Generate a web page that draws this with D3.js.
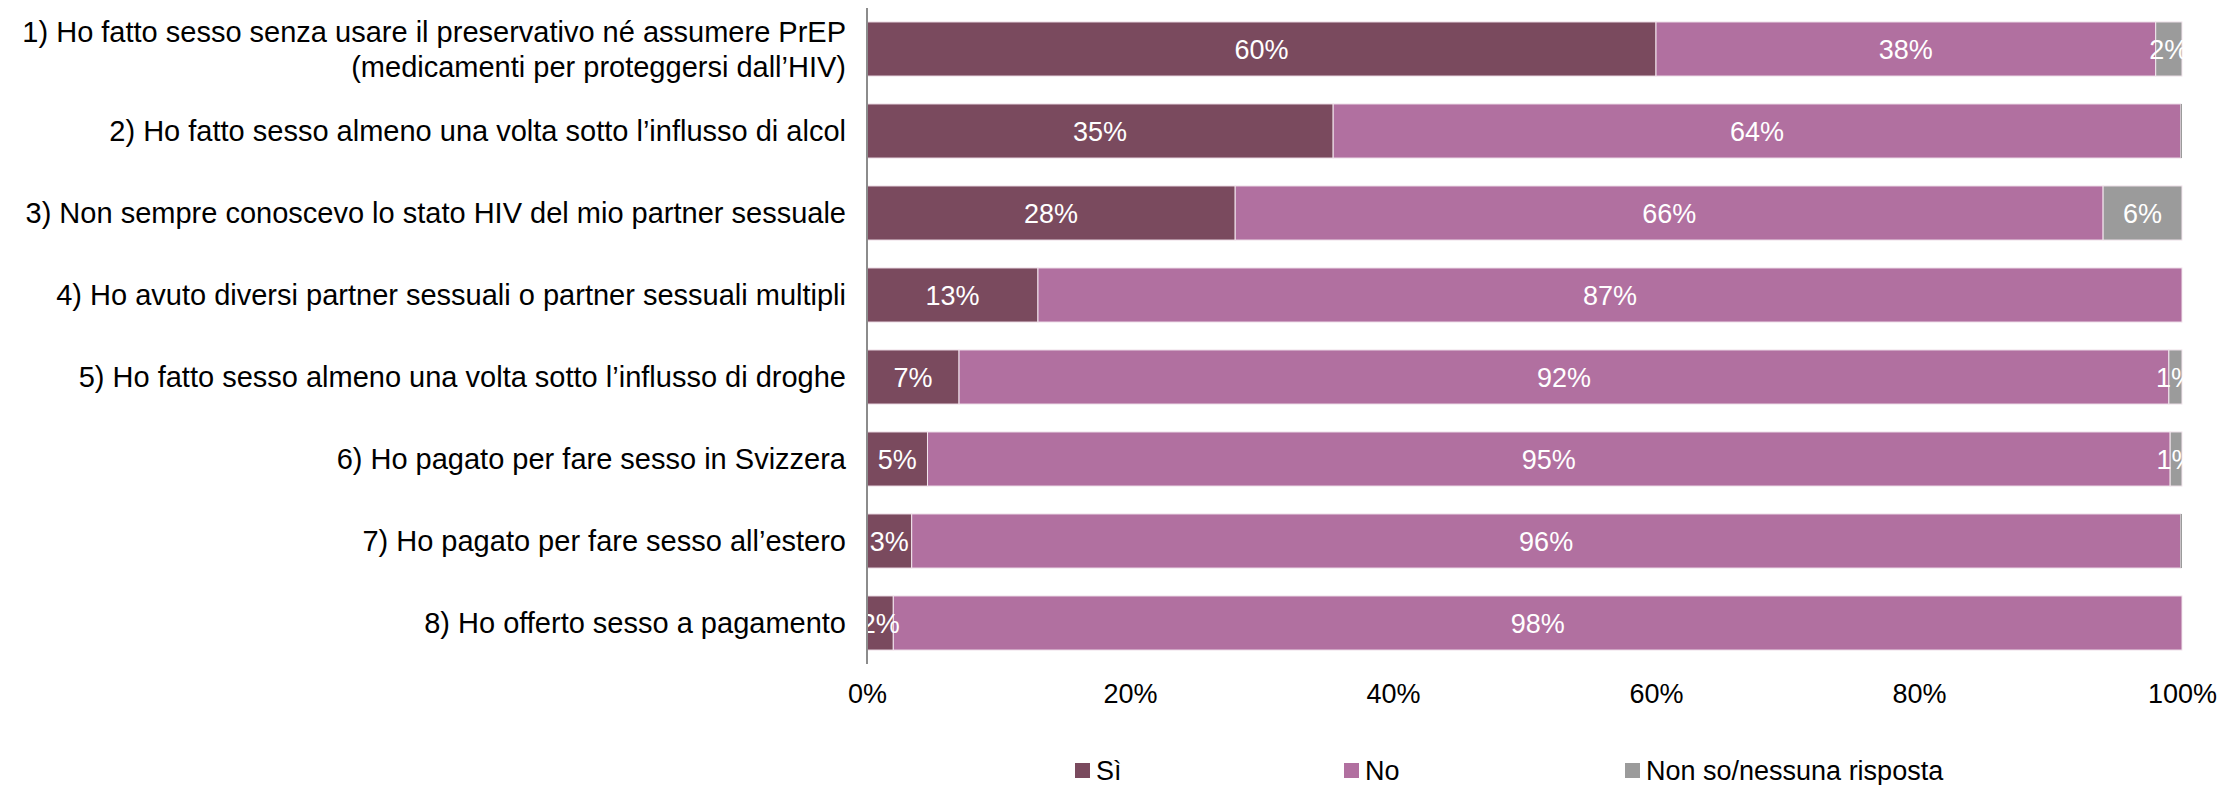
<!DOCTYPE html>
<html>
<head>
<meta charset="utf-8">
<script src="https://cdn.jsdelivr.net/npm/d3@7"></script>
<style>
html,body{margin:0;padding:0;background:#fff;}
svg{display:block;font-family:"Liberation Sans",Arial,sans-serif;}
</style>
</head>
<body>
<svg id="chart" width="2223" height="785"></svg>
<script>
const categories = [
  ["1) Ho fatto sesso senza usare il preservativo né assumere PrEP", "(medicamenti per proteggersi dall’HIV)"],
  ["2) Ho fatto sesso almeno una volta sotto l’influsso di alcol"],
  ["3) Non sempre conoscevo lo stato HIV del mio partner sessuale"],
  ["4) Ho avuto diversi partner sessuali o partner sessuali multipli"],
  ["5) Ho fatto sesso almeno una volta sotto l’influsso di droghe"],
  ["6) Ho pagato per fare sesso in Svizzera"],
  ["7) Ho pagato per fare sesso all’estero"],
  ["8) Ho offerto sesso a pagamento"]
];
const seriesNames = ["Sì", "No", "Non so/nessuna risposta"];
const si     = [60, 35.45, 28, 13, 7, 4.6, 3.4, 2];
const no     = [38, 64.45, 66, 87, 92, 94.5, 96.49, 98];
const nonSo  = [2, 0.1, 6, 0, 1, 0.9, 0.11, 0];
const colors = ["#7A4A5E", "#B170A0", "#9B9B9B"];
const xTicks = [0, 20, 40, 60, 80, 100];

const svg = d3.select("#chart");
const fontSize = 27;
const catFontSize = 29;
const x = d3.scaleLinear().domain([0, 100]).range([867, 2182]);
const y = d3.scaleBand().domain(d3.range(categories.length)).range([8, 664]).paddingInner(0.34).paddingOuter(0.17);

const rows = categories.map((c, i) => ({i, vals: [si[i], no[i], nonSo[i]]}));
const stackData = rows.map(r => {
  let acc = 0;
  return r.vals.map((v, k) => { const s = {row: r.i, k, v, x0: acc, x1: acc + v}; acc += v; return s; });
});

const g = svg.append("g");
stackData.forEach(segs => {
  segs.forEach(s => {
    if (s.v <= 0) return;
    g.append("rect")
      .attr("x", x(s.x0)).attr("y", y(s.row))
      .attr("width", x(s.x1) - x(s.x0)).attr("height", y.bandwidth())
      .attr("fill", colors[s.k])
      .attr("stroke", s.v < 0.2 ? "none" : "#f3e6ee").attr("stroke-width", 1);
  });
});
stackData.forEach(segs => {
  segs.forEach(s => {
    if (s.v < 0.5) return;
    g.append("text")
      .attr("x", (x(s.x0) + x(s.x1)) / 2)
      .attr("y", y(s.row) + y.bandwidth() / 2)
      .attr("dy", "0.36em")
      .attr("text-anchor", "middle")
      .attr("fill", "#fff")
      .attr("font-size", fontSize)
      .text(Math.round(s.v) + "%");
  });
});

// y axis line
svg.append("line").attr("x1", 867).attr("x2", 867).attr("y1", 8).attr("y2", 664)
  .attr("stroke", "#8c8c8c").attr("stroke-width", 2);

// category labels
categories.forEach((lines, i) => {
  const cy = y(i) + y.bandwidth() / 2;
  const lh = 35;
  const t = svg.append("text").attr("text-anchor", "end").attr("font-size", catFontSize).attr("fill", "#000");
  lines.forEach((ln, j) => {
    t.append("tspan").attr("x", 846)
      .attr("y", cy + (j - (lines.length - 1) / 2) * lh)
      .attr("dy", "0.36em").text(ln);
  });
});

// x axis tick labels
const xAxis = d3.axisBottom(x).tickValues(xTicks).tickFormat(d => d + "%").tickSize(0).tickPadding(0);
const ax = svg.append("g").attr("transform", "translate(0,684)").call(xAxis);
ax.select(".domain").remove();
ax.selectAll("text").attr("font-size", fontSize).attr("fill", "#000").attr("font-family", "Liberation Sans, Arial, sans-serif");

// legend
const legendX = [1075, 1344, 1625];
seriesNames.forEach((n, k) => {
  svg.append("rect").attr("x", legendX[k]).attr("y", 763).attr("width", 15).attr("height", 15).attr("fill", colors[k]);
  svg.append("text").attr("x", legendX[k] + 21).attr("y", 770).attr("dy", "0.36em")
    .attr("font-size", fontSize).attr("fill", "#000").text(n);
});
</script>
</body>
</html>
